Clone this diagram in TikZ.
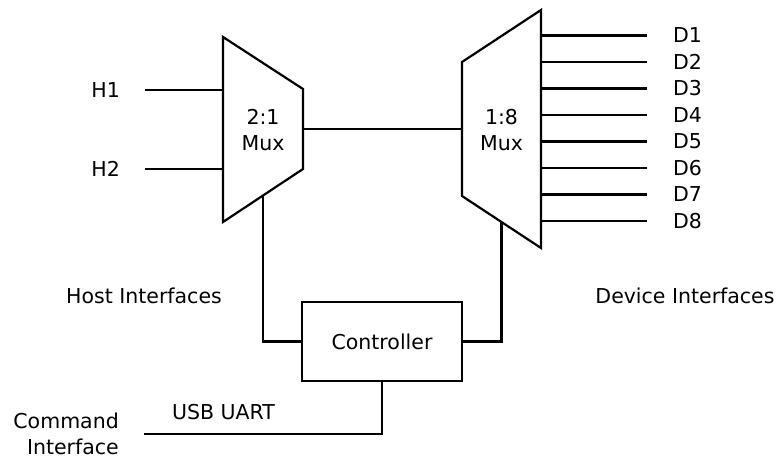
\documentclass[tikz,border=0pt]{standalone}
\usepackage{fontspec}
\setmainfont{DejaVu Sans}
\usepackage{tikz}
\usetikzlibrary{positioning, calc}

\begin{document}
\begin{tikzpicture}[
    x=1pt, y=1pt,
    wire/.style={line width=2.2pt},
    muxshape/.style={draw, line width=2.2pt, line join=miter},
    lbl/.style={font=\fontsize{20.5}{26}\selectfont, inner sep=0pt, align=center},
    box/.style={draw, line width=2.2pt, minimum width=160pt, minimum height=79pt, inner sep=0pt, font=\fontsize{20.5}{26}\selectfont}
]
\useasboundingbox (0,0) rectangle (781,459);

% Muxes
\draw[muxshape] (223,422) -- (303,370) -- (303,290) -- (223,237) -- cycle;
\node[lbl] (muxhost) at (263,329) {2:1\\Mux};
\draw[muxshape] (462,397) -- (541,449) -- (541,211) -- (462,263) -- cycle;
\node[lbl] (muxdev) at (501.5,329) {1:8\\Mux};

% Mux pins
\coordinate (hin1) at (223,369);
\coordinate (hin2) at (223,290);
\coordinate (hout) at (303,330);
\coordinate (din) at (462,330);
\coordinate (hsel) at (263,263.5);
\coordinate (dsel) at (501.5,237);

% Controller
\node[box] (ctrl) at (382,117.5) {Controller};

% Host side
\coordinate (h1) at (145,369);
\coordinate (h2) at (145,290);
\node[lbl, anchor=base east, left=25pt of h1.center] (lh1) {H1};
\node[lbl, anchor=base east, left=25pt of h2.center] (lh2) {H2};
\node[lbl, anchor=base] (host) at (144,156) {Host Interfaces};

% Device side
\foreach \i in {1,...,8} {
    \pgfmathsetmacro\yy{423.5-26.5*(\i-1)}
    \coordinate (dpin\i) at (541,\yy);
    \coordinate (d\i) at (647,\yy);
    \draw[wire] (dpin\i) -- (d\i);
    \node[lbl, anchor=base west, right=26pt of d\i.center] (ld\i) {D\i};
}
\node[lbl, anchor=base] (dev) at (685,156) {Device Interfaces};

% Command interface
\coordinate (cmd) at (144,25);
\node[lbl, align=right, left=25pt of cmd] (lcmd) {Command\\Interface};

% Wires
\draw[wire] (h1) -- (hin1);
\draw[wire] (h2) -- (hin2);
\draw[wire] (hout) -- (din);
\draw[wire] (hsel) |- (ctrl.west);
\draw[wire] (dsel) |- (ctrl.east);
\draw[wire] (ctrl.south) |- node[lbl, pos=0.833, above=13pt] {USB UART} (cmd);

\end{tikzpicture}
\end{document}
